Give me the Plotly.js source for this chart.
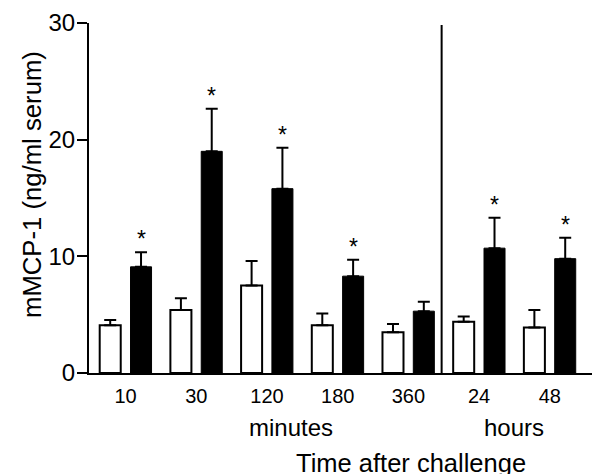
<!DOCTYPE html>
<html>
<head>
<meta charset="utf-8">
<script src="https://cdn.plot.ly/plotly-3.0.1.min.js"></script>
<style>html,body{margin:0;padding:0;background:#fff;}#chart{width:592px;height:474px;}</style>
</head>
<body>
<div id="chart"></div>
<script>
// Data
const categories = ['10', '30', '120', '180', '360', '24', '48'];
const controlValues = [4.1, 5.4, 7.5, 4.1, 3.5, 4.4, 3.9];
const controlErrors = [0.45, 1.0, 2.1, 1.0, 0.7, 0.45, 1.5];
const challengedValues = [9.1, 19.0, 15.8, 8.3, 5.3, 10.7, 9.8];
const challengedErrors = [1.25, 3.65, 3.5, 1.4, 0.8, 2.6, 1.8];
const significant = [true, true, true, true, false, true, true];
const yTicks = [0, 10, 20, 30];

const FONT = 'Liberation Sans, Arial, Helvetica, sans-serif';

const traces = [
  {
    type: 'bar', x: categories, y: controlValues, name: 'control',
    marker: {color: '#ffffff', line: {color: '#000000', width: 2}},
    error_y: {type: 'data', array: controlErrors, symmetric: false, arrayminus: controlErrors.map(() => 0), color: '#000000', thickness: 2, width: 6},
    hoverinfo: 'none'
  },
  {
    type: 'bar', x: categories, y: challengedValues, name: 'challenged',
    marker: {color: '#000000', line: {color: '#000000', width: 1}},
    error_y: {type: 'data', array: challengedErrors, symmetric: false, arrayminus: challengedErrors.map(() => 0), color: '#000000', thickness: 2, width: 6},
    hoverinfo: 'none'
  }
];

const annotations = [];
categories.forEach((c, i) => {
  if (significant[i]) {
    annotations.push({
      x: i + 0.218, xref: 'x', y: challengedValues[i] + challengedErrors[i], yref: 'y',
      text: '*', showarrow: false, xanchor: 'center', yanchor: 'bottom', yshift: -2,
      font: {family: FONT, size: 23, color: '#000'}
    });
  }
});
annotations.push(
  {x: 2.34, xref: 'x', y: -0.157, yref: 'paper', text: 'minutes', showarrow: false, xanchor: 'center', yanchor: 'middle', font: {family: FONT, size: 24, color: '#000'}},
  {x: 5.5, xref: 'x', y: -0.157, yref: 'paper', text: 'hours', showarrow: false, xanchor: 'center', yanchor: 'middle', font: {family: FONT, size: 24, color: '#000'}},
  {x: 4.03, xref: 'x', y: -0.257, yref: 'paper', text: 'Time after challenge', showarrow: false, xanchor: 'center', yanchor: 'middle', font: {family: FONT, size: 25.5, color: '#000'}},
  {x: (32 - 89) / 503, xref: 'paper', y: (373 - 185) / 350, yref: 'paper', text: 'mMCP-1 (ng/ml serum)', showarrow: false, textangle: -90, xanchor: 'center', yanchor: 'middle', font: {family: FONT, size: 25.7, color: '#000'}}
);

const layout = {
  width: 592, height: 474,
  margin: {l: 89, r: 0, t: 23, b: 101},
  paper_bgcolor: '#ffffff', plot_bgcolor: '#ffffff',
  showlegend: false,
  barmode: 'group', bargap: 0.128, bargroupgap: 0.318,
  font: {family: FONT, color: '#000'},
  xaxis: {
    type: 'category', range: [-0.518, 6.597],
    showline: true, linecolor: '#000', linewidth: 2,
    showgrid: false, zeroline: false, ticks: '',
    ticklabelstandoff: 4,
    tickfont: {family: FONT, size: 20, color: '#000'}
  },
  yaxis: {
    range: [0, 30], tickvals: yTicks, ticktext: yTicks.map(String),
    showline: true, linecolor: '#000', linewidth: 2,
    showgrid: false, zeroline: false,
    ticks: 'outside', ticklen: 10, tickwidth: 2, tickcolor: '#000',
    ticklabelstandoff: -3,
    tickfont: {family: FONT, size: 24, color: '#000'}
  },
  shapes: [
    {type: 'line', xref: 'x', yref: 'paper', x0: 4.47, x1: 4.47, y0: 0, y1: 0.994, line: {color: '#000', width: 2}}
  ],
  annotations: annotations
};

Plotly.newPlot('chart', traces, layout, {staticPlot: true, displayModeBar: false});
</script>
</body>
</html>
